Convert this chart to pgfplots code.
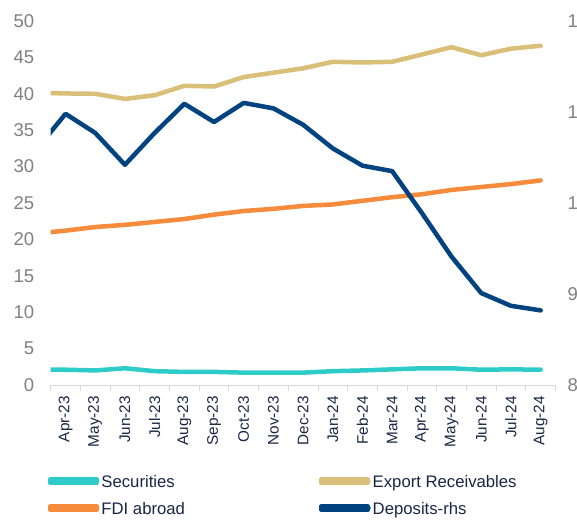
\documentclass[border=0pt]{standalone}
\usepackage{pgfplots}
\pgfplotsset{compat=1.18}
\usepackage{fontspec}
\setmainfont{Liberation Sans}
\definecolor{secCol}{RGB}{46,204,201}
\definecolor{goldCol}{RGB}{217,191,120}
\definecolor{fdiCol}{RGB}{246,139,59}
\definecolor{depCol}{RGB}{0,67,128}
\definecolor{tickgray}{RGB}{128,128,128}
\definecolor{labnavy}{RGB}{24,37,70}
\definecolor{axisgray}{RGB}{217,217,217}
\begin{document}
\begin{tikzpicture}
\pgfplotsset{
  common/.style={
    at={(0pt,0pt)}, anchor=south west,
    scale only axis, width=504.8pt, height=364pt,
    xmin=-0.5, xmax=16.5,
    /pgf/number format/assume math mode=true,
    every axis plot/.append style={line width=4.5pt, line join=round, line cap=round},
  }
}
\begin{axis}[
  common,
  ymin=0, ymax=50,
  ytick={0,5,...,50},
  xtick={0,...,16},
  xticklabels={Apr-23,May-23,Jun-23,Jul-23,Aug-23,Sep-23,Oct-23,Nov-23,Dec-23,Jan-24,Feb-24,Mar-24,Apr-24,May-24,Jun-24,Jul-24,Aug-24},
  minor xtick={-0.5,0.5,...,16.5},
  tick align=outside,
  major tick length=0pt,
  minor tick length=6pt,
  major x tick style={draw=none},
  minor x tick style={draw=axisgray, line width=0.8pt},
  axis x line*=bottom, axis y line*=left,
  x axis line style={draw=axisgray, line width=0.8pt},
  y axis line style={draw=none},
  ytick style={draw=none},
  yticklabel style={font=\fontsize{18.5}{20}\selectfont, text=tickgray, anchor=east, inner sep=0pt, xshift=-16.4pt},
  xticklabel style={font=\fontsize{15.3}{18}\selectfont, text=labnavy, yshift=-11pt, rotate=90, anchor=east, inner sep=0pt},
]
\addplot[secCol] coordinates {(-1,2.1) (0,2.1) (1,2.0) (2,2.3) (3,1.9) (4,1.8) (5,1.8) (6,1.7) (7,1.7) (8,1.7) (9,1.9) (10,2.0) (11,2.15) (12,2.3) (13,2.3) (14,2.1) (15,2.15) (16,2.1)};
\addplot[goldCol] coordinates {(-1,40.15) (0,40.05) (1,40.0) (2,39.3) (3,39.8) (4,41.1) (5,41.0) (6,42.3) (7,42.9) (8,43.5) (9,44.4) (10,44.3) (11,44.4) (12,45.4) (13,46.4) (14,45.3) (15,46.2) (16,46.6)};
\addplot[fdiCol] coordinates {(-1,20.8) (0,21.2) (1,21.7) (2,22.0) (3,22.4) (4,22.8) (5,23.4) (6,23.9) (7,24.2) (8,24.6) (9,24.8) (10,25.3) (11,25.8) (12,26.2) (13,26.8) (14,27.2) (15,27.6) (16,28.1)};
\end{axis}
\begin{axis}[
  common,
  ymin=80, ymax=120,
  ytick={80,90,...,120},
  axis x line=none, axis y line*=right,
  y axis line style={draw=none},
  ytick style={draw=none},
  major tick length=0pt,
  yticklabel style={font=\fontsize{18.5}{20}\selectfont, text=tickgray, anchor=west, inner sep=0pt, xshift=12pt},
  legend columns=2,
  legend cell align=left,
  legend image code/.code={\path (0pt,-2pt) rectangle (46pt,2pt); \draw[#1, line width=4.5pt, line cap=round] (2.25pt,0pt) -- (46.75pt,0pt);},
  legend style={draw=none, fill=none, at={(-0.00535,-0.24176)}, anchor=north west,
    inner xsep=0pt, inner ysep=0pt,
    font=\fontsize{16.7}{20}\selectfont, text=labnavy,
    nodes={inner sep=2pt, text height=12pt, text depth=0pt},
    column sep=0pt, row sep=11pt,
    /tikz/every even column/.append style={column sep=132.5pt}},
]
\addlegendimage{secCol}
\addlegendentry{Securities}
\addlegendimage{goldCol}
\addlegendentry{Export Receivables}
\addlegendimage{fdiCol}
\addlegendentry{FDI abroad}
\addplot[depCol] coordinates {(-1,105.8) (0,109.8) (1,107.7) (2,104.2) (3,107.7) (4,110.9) (5,108.9) (6,111.0) (7,110.4) (8,108.6) (9,106.0) (10,104.1) (11,103.5) (12,98.9) (13,94.1) (14,90.1) (15,88.7) (16,88.2)};
\addlegendentry{Deposits-rhs}
\end{axis}
\pgfresetboundingbox
\useasboundingbox (-50.7pt,-140pt) rectangle (526.3pt,385pt);
\end{tikzpicture}
\end{document}
